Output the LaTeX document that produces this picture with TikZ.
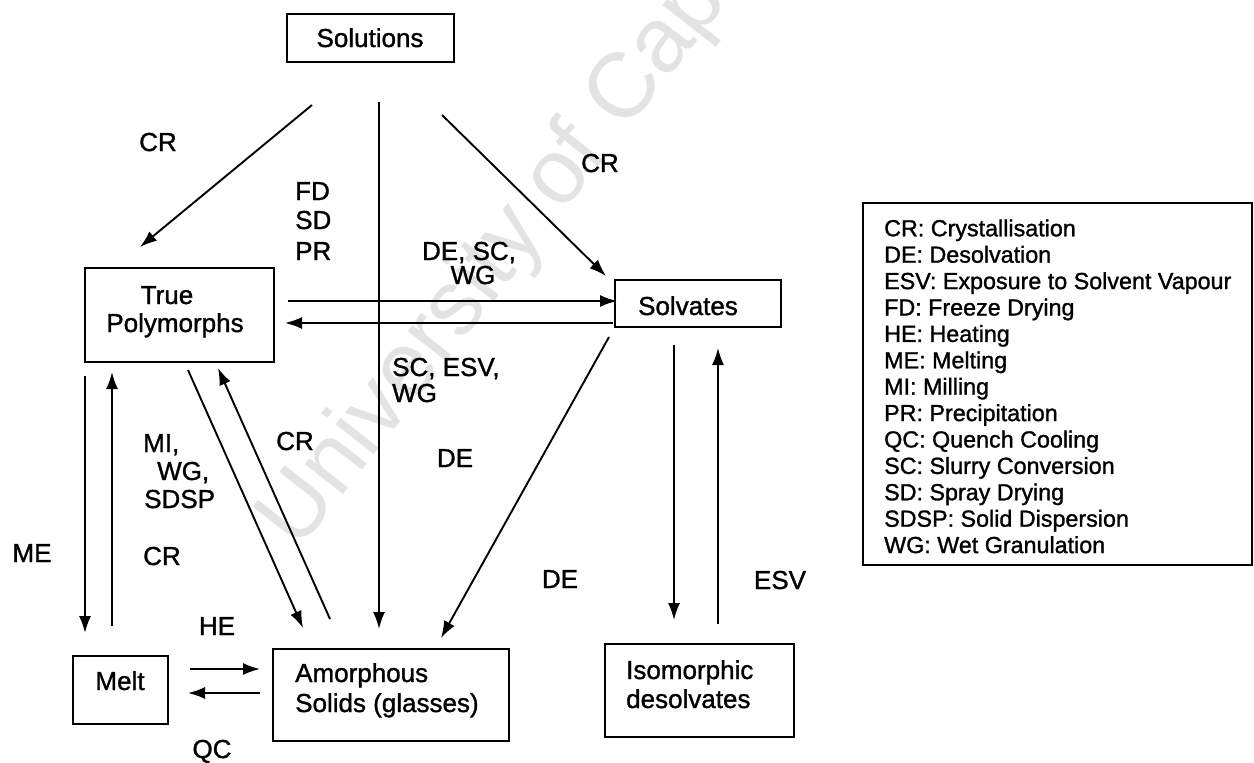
\documentclass[tikz,border=0pt]{standalone}
\usepackage{fontspec}
\setmainfont{Liberation Sans}[BoldFont=Liberation Sans, BoldFeatures={FakeBold=1.2}]
\usetikzlibrary{arrows.meta}
\begin{document}
\begin{tikzpicture}[x=1pt,y=-1pt,
  box/.style={draw, line width=1.9pt, inner sep=0pt},
  lbl/.style={inner sep=0pt, anchor=base, font=\fontsize{26}{28}\selectfont\bfseries},
  lblw/.style={inner sep=0pt, anchor=base west, font=\fontsize{26}{28}\selectfont\bfseries},
  arr/.style={line width=1.9pt, -{Latex[length=17pt,width=12pt]}},
  leg/.style={inner sep=0pt, anchor=base west, font=\fontsize{23.3}{26}\selectfont\bfseries}]
\useasboundingbox (0,0) rectangle (1254,763);
\fill[white] (0,0) rectangle (1254,763);
\begin{scope}
  \clip (0,0) rectangle (1254,763);
  \node[rotate=52, anchor=base west, inner sep=0pt, text=black!11,
        font=\fontsize{92}{92}\selectfont] (wm) at (298,552) {University of Cape Town};
\end{scope}

% boxes
\node[box, minimum width=167pt, minimum height=48pt] (sol) at (370.5,38) {};
\node[box, minimum width=189pt, minimum height=94pt] (tp) at (179.5,315) {};
\node[box, minimum width=166pt, minimum height=47pt] (solv) at (698,303.5) {};
\node[box, minimum width=95pt, minimum height=68pt] (melt) at (120.5,690) {};
\node[box, minimum width=236pt, minimum height=92pt] (amor) at (391,695) {};
\node[box, minimum width=189pt, minimum height=93pt] (iso) at (699.5,690.5) {};
\node[box, minimum width=389pt, minimum height=362pt] (legbox) at (1057.5,384) {};

% box texts
\node[lbl] (tsol) at (370,47) {Solutions};
\node[lbl] (ttp1) at (167,304) {True};
\node[lbl] (ttp2) at (175,332) {Polymorphs};
\node[lbl] (tsolv) at (688,315) {Solvates};
\node[lbl] (tmelt) at (120,690) {Melt};
\node[lblw] (tam1) at (295,682) {Amorphous};
\node[lblw] (tam2) at (295,712) {Solids (glasses)};
\node[lblw] (tiso1) at (626,679) {Isomorphic};
\node[lblw] (tiso2) at (626,708) {desolvates};

% arrow end points
\coordinate (s1) at (312,105);  \coordinate (e1) at (140,247);
\coordinate (s2) at (379,102);  \coordinate (e2) at (379,629);
\coordinate (s3) at (442,115);  \coordinate (e3) at (606,276);
\coordinate (s4) at (288,301);  \coordinate (e4) at (617,301);
\coordinate (s5) at (613,323);  \coordinate (e5) at (285,323);
\coordinate (s6) at (609,337);  \coordinate (e6) at (441,638);
\coordinate (s7) at (674,345);  \coordinate (e7) at (674,620);
\coordinate (s8) at (718,624);  \coordinate (e8) at (718,348);
\coordinate (s9) at (85,376);   \coordinate (e9) at (85,633);
\coordinate (s10) at (112,626); \coordinate (e10) at (112,372);
\coordinate (s11) at (188,370); \coordinate (e11) at (303,628);
\coordinate (s12) at (330,619); \coordinate (e12) at (218,368);
\coordinate (s13) at (190,669); \coordinate (e13) at (260,669);
\coordinate (s14) at (260,693); \coordinate (e14) at (188,693);

\foreach \i in {1,...,14} { \draw[arr] (s\i) -- (e\i); }

% arrow labels
\node[lbl] (l1) at (158,151) {CR};
\node[lblw] (l2a) at (295,200) {FD};
\node[lblw] (l2b) at (295,229) {SD};
\node[lblw] (l2c) at (295,260) {PR};
\node[lbl] (l3) at (600,172) {CR};
\node[lbl] (l4a) at (469,260) {DE, SC,};
\node[lbl] (l4b) at (473,284) {WG};
\node[lblw] (l5a) at (392,376) {SC, ESV,};
\node[lblw] (l5b) at (392,402) {WG};
\node[lbl] (l6) at (455,467) {DE};
\node[lbl] (l7) at (560,588) {DE};
\node[lbl] (l8) at (780,589) {ESV};
\node[lbl] (l9) at (32,562) {ME};
\node[lbl] (l10) at (162,565) {CR};
\node[lblw] (l11a) at (143,452) {MI,};
\node[lblw] (l11b) at (157,480) {WG,};
\node[lblw] (l11c) at (144,508) {SDSP};
\node[lbl] (l12) at (295,450) {CR};
\node[lbl] (l13) at (217,635) {HE};
\node[lbl] (l14) at (212,758) {QC};

% legend
\foreach \t [count=\i from 0] in {CR: Crystallisation, DE: Desolvation,
  ESV: Exposure to Solvent Vapour, FD: Freeze Drying, HE: Heating,
  ME: Melting, MI: Milling, PR: Precipitation, QC: Quench Cooling,
  SC: Slurry Conversion, SD: Spray Drying, SDSP: Solid Dispersion,
  WG: Wet Granulation}
  { \node[leg] (leg\i) at (884,{236.3+26.4*\i}) {\t}; }
\end{tikzpicture}
\end{document}
